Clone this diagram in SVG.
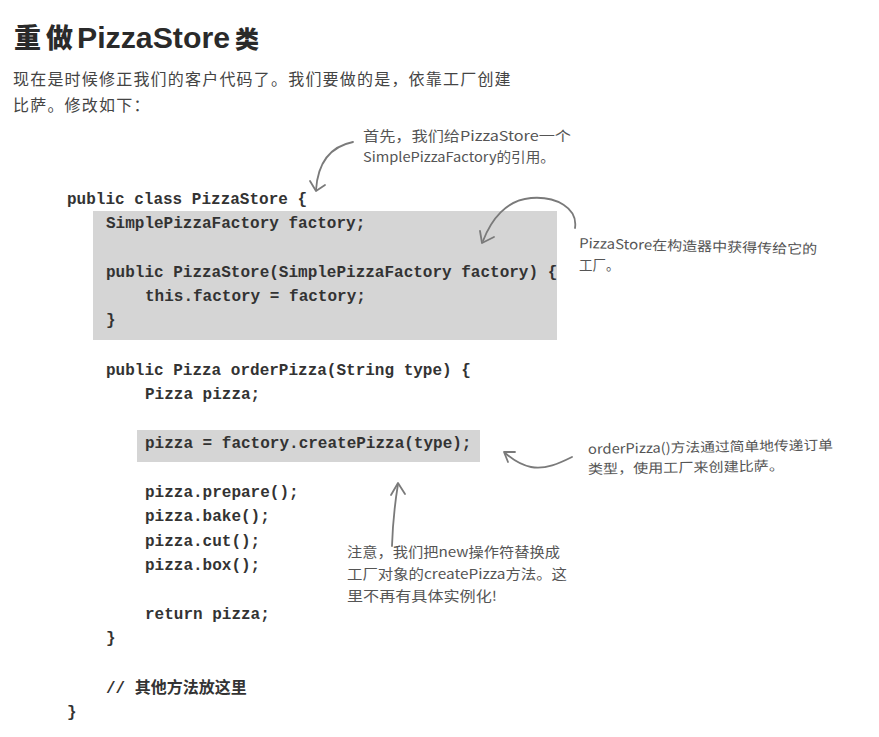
<svg xmlns="http://www.w3.org/2000/svg" width="879" height="737" viewBox="0 0 879 737">
<style>
.code{font-family:"Liberation Mono","Noto Sans CJK SC",monospace;font-size:16px;font-weight:bold;fill:#333}
.para{font-family:"Noto Sans CJK SC",sans-serif;font-size:16px;fill:#444;letter-spacing:1.2px}
.note{font-family:"Noto Sans CJK SC",sans-serif;font-size:13.5px;fill:#555}
.hl{fill:#d5d5d5}
.arrow{fill:none;stroke:#7a7a7a;stroke-width:1.8;stroke-linecap:round;stroke-linejoin:round}
</style>
<rect width="879" height="737" fill="#ffffff"/>
<g id="title">
<text x="14" y="48" font-family="Noto Sans CJK SC,sans-serif" font-size="27" font-weight="900" fill="#2a2a2a">重</text>
<text x="46" y="48" font-family="Noto Sans CJK SC,sans-serif" font-size="27" font-weight="900" fill="#2a2a2a">做</text>
<text x="77" y="48" font-family="Liberation Sans,sans-serif" font-size="29" font-weight="bold" fill="#2a2a2a" textLength="153" lengthAdjust="spacingAndGlyphs">PizzaStore</text>
<text x="235" y="48" font-family="Noto Sans CJK SC,sans-serif" font-size="24" font-weight="900" fill="#2a2a2a">类</text>
</g>
<g id="intro">
<text class="para" x="13" y="85">现在是时候修正我们的客户代码了。我们要做的是，依靠工厂创建</text>
<text class="para" x="13" y="111">比萨。修改如下：</text>
</g>
<g id="highlights">
<rect class="hl" x="93" y="211" width="464" height="129"/>
<rect class="hl" x="137" y="430" width="343" height="32"/>
</g>
<g id="code">
<text class="code" x="67" y="204">public class PizzaStore {</text>
<text class="code" x="106" y="228">SimplePizzaFactory factory;</text>
<text class="code" x="106" y="277">public PizzaStore(SimplePizzaFactory factory) {</text>
<text class="code" x="145" y="301">this.factory = factory;</text>
<text class="code" x="106" y="325">}</text>
<text class="code" x="106" y="375">public Pizza orderPizza(String type) {</text>
<text class="code" x="145" y="399">Pizza pizza;</text>
<text class="code" x="145" y="448">pizza = factory.createPizza(type);</text>
<text class="code" x="145" y="497">pizza.prepare();</text>
<text class="code" x="145" y="521">pizza.bake();</text>
<text class="code" x="145" y="546">pizza.cut();</text>
<text class="code" x="145" y="570">pizza.box();</text>
<text class="code" x="145" y="619">return pizza;</text>
<text class="code" x="106" y="643">}</text>
<text class="code" x="106" y="693">// 其他方法放这里</text>
<text class="code" x="67" y="717">}</text>
</g>
<g id="note-reference">
<text class="note" x="363" y="141" textLength="208" lengthAdjust="spacingAndGlyphs">首先，我们给PizzaStore一个</text>
<text class="note" x="363" y="162" textLength="192" lengthAdjust="spacingAndGlyphs">SimplePizzaFactory的引用。</text>
</g>
<g id="note-constructor">
<text class="note" x="579" y="248" transform="rotate(1.5 579 248)" textLength="238" lengthAdjust="spacingAndGlyphs">PizzaStore在构造器中获得传给它的</text>
<text class="note" x="579" y="270">工厂。</text>
</g>
<g id="note-order">
<text class="note" x="588" y="454" transform="rotate(-1 588 454)" textLength="245" lengthAdjust="spacingAndGlyphs">orderPizza()方法通过简单地传递订单</text>
<text class="note" x="588" y="474" transform="rotate(-1 588 474)" textLength="196" lengthAdjust="spacingAndGlyphs">类型，使用工厂来创建比萨。</text>
</g>
<g id="note-new">
<text class="note" x="347" y="557" textLength="213" lengthAdjust="spacingAndGlyphs">注意，我们把new操作符替换成</text>
<text class="note" x="347" y="579" textLength="220" lengthAdjust="spacingAndGlyphs">工厂对象的createPizza方法。这</text>
<text class="note" x="347" y="601" textLength="150" lengthAdjust="spacingAndGlyphs">里不再有具体实例化!</text>
</g>
<g id="connectors">
<path class="arrow" d="M353,142 C333,146 318,160 316,190"/>
<path class="arrow" d="M310,181 L316,191 L325,185"/>
<path class="arrow" d="M575,228 C578,208 556,196 531,198 C506,200 491,220 483,241"/>
<path class="arrow" d="M480,231 L482,243 L494,237"/>
<path class="arrow" d="M572,457 C560,463 545,470 531,467 C520,465 512,459 505,453"/>
<path class="arrow" d="M515,452 L504,452 L508,462"/>
<path class="arrow" d="M392,546 Q393,515 398,484"/>
<path class="arrow" d="M391,495 L398,483 L405,494"/>
</g>
</svg>
